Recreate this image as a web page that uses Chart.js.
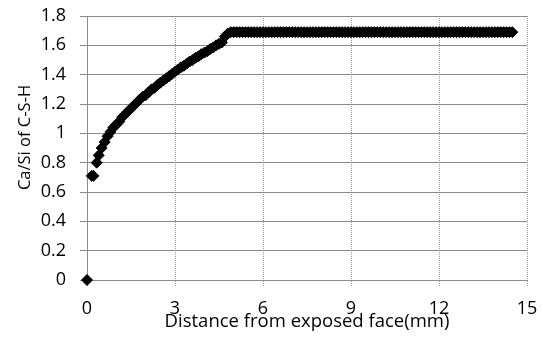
<!DOCTYPE html>
<html>
<head>
<meta charset="utf-8">
<script src="https://cdn.jsdelivr.net/npm/chart.js@4.4.1/dist/chart.umd.min.js"></script>
<style>
    html, body { margin: 0; padding: 0; background: #fff; }
    #wrap { width: 543px; height: 342px; position: relative; }
</style>
</head>
<body>
<div id="wrap"><canvas id="casi-chart"></canvas></div>
<script>
// start of the profile (mm, Ca/Si)
const startX = [0, 0.16, 0.22];
const startY = [0, 0.71, 0.71];

// rising part of the profile
const curveX = [0.33, 0.4, 0.5, 0.6, 0.7, 0.8, 0.9, 1.0, 1.1, 1.2,
    1.3, 1.4, 1.5, 1.6, 1.7, 1.8, 1.9, 2.0, 2.1, 2.2,
    2.3, 2.4, 2.5, 2.6, 2.7, 2.8, 2.9, 3.0, 3.1, 3.2,
    3.3, 3.4, 3.5, 3.6, 3.7, 3.8, 3.9, 4.0, 4.1, 4.2,
    4.3, 4.4, 4.5, 4.6, 4.7, 4.8, 4.9];
const curveY = [0.80, 0.85, 0.90, 0.94, 0.98, 1.01, 1.04, 1.06, 1.08, 1.11,
    1.13, 1.15, 1.17, 1.19, 1.21, 1.23, 1.25, 1.26, 1.28, 1.30,
    1.31, 1.33, 1.345, 1.36, 1.375, 1.39, 1.405, 1.42, 1.435, 1.45,
    1.46, 1.475, 1.49, 1.50, 1.515, 1.525, 1.54, 1.55, 1.56, 1.575,
    1.585, 1.60, 1.61, 1.62, 1.66, 1.68, 1.69];

// sound (unaffected) part
const plateauX = [5.0, 5.1, 5.2, 5.3, 5.4, 5.5, 5.6, 5.7, 5.8, 5.9,
    6.0, 6.1, 6.2, 6.3, 6.4, 6.5, 6.6, 6.7, 6.8, 6.9,
    7.0, 7.1, 7.2, 7.3, 7.4, 7.5, 7.6, 7.7, 7.8, 7.9,
    8.0, 8.1, 8.2, 8.3, 8.4, 8.5, 8.6, 8.7, 8.8, 8.9,
    9.0, 9.1, 9.2, 9.3, 9.4, 9.5, 9.6, 9.7, 9.8, 9.9,
    10.0, 10.1, 10.2, 10.3, 10.4, 10.5, 10.6, 10.7, 10.8, 10.9,
    11.0, 11.1, 11.2, 11.3, 11.4, 11.5, 11.6, 11.7, 11.8, 11.9,
    12.0, 12.1, 12.2, 12.3, 12.4, 12.5, 12.6, 12.7, 12.8, 12.9,
    13.0, 13.1, 13.2, 13.3, 13.4, 13.5, 13.6, 13.7, 13.8, 13.9,
    14.0, 14.1, 14.2, 14.3, 14.4, 14.5];
const plateauY = [1.69, 1.69, 1.69, 1.69, 1.69, 1.69, 1.69, 1.69, 1.69, 1.69,
    1.69, 1.69, 1.69, 1.69, 1.69, 1.69, 1.69, 1.69, 1.69, 1.69,
    1.69, 1.69, 1.69, 1.69, 1.69, 1.69, 1.69, 1.69, 1.69, 1.69,
    1.69, 1.69, 1.69, 1.69, 1.69, 1.69, 1.69, 1.69, 1.69, 1.69,
    1.69, 1.69, 1.69, 1.69, 1.69, 1.69, 1.69, 1.69, 1.69, 1.69,
    1.69, 1.69, 1.69, 1.69, 1.69, 1.69, 1.69, 1.69, 1.69, 1.69,
    1.69, 1.69, 1.69, 1.69, 1.69, 1.69, 1.69, 1.69, 1.69, 1.69,
    1.69, 1.69, 1.69, 1.69, 1.69, 1.69, 1.69, 1.69, 1.69, 1.69,
    1.69, 1.69, 1.69, 1.69, 1.69, 1.69, 1.69, 1.69, 1.69, 1.69,
    1.69, 1.69, 1.69, 1.69, 1.69, 1.69];

const yTickLabels = ["0", "0.2", "0.4", "0.6", "0.8", "1", "1.2", "1.4", "1.6", "1.8"];
const xTickLabels = ["0", "3", "6", "9", "12", "15"];
const yTitle = "Ca/Si of C-S-H";
const xTitle = "Distance from exposed face(mm)";

function toPoints(xs, ys) {
    return xs.map((x, i) => ({ x: x, y: ys[i] }));
}

const points = toPoints(startX, startY)
    .concat(toPoints(curveX, curveY))
    .concat(toPoints(plateauX, plateauY));

const fontFamily = "'Open Sans', 'Noto Sans', sans-serif";

// the y title sits a little above the middle of the axis, as in the original
const yTitlePlugin = {
    id: "yTitle",
    afterDraw(chart) {
        const c = chart.ctx;
        c.save();
        c.translate(25, 137.5);
        c.rotate(-Math.PI / 2);
        c.font = "16.5px " + fontFamily;
        c.fillStyle = "#000";
        c.textAlign = "center";
        c.textBaseline = "middle";
        c.fillText(yTitle, 0, 0);
        c.restore();
    },
};

function noScalePadding(scale) {
    scale.paddingTop = 0;
    scale.paddingBottom = 0;
    scale.paddingLeft = 0;
    scale.paddingRight = 0;
}

const ctx = document.getElementById("casi-chart");
new Chart(ctx, {
    type: "scatter",
    data: {
        datasets: [
            {
                label: "Ca/Si",
                data: points,
                pointStyle: "rectRot",
                pointRadius: 5.5,
                pointBorderWidth: 1,
                backgroundColor: "#000",
                borderColor: "#000",
                showLine: false,
                clip: false,
            },
        ],
    },
    options: {
        responsive: true,
        maintainAspectRatio: false,
        animation: false,
        layout: {
            padding: { top: 16, right: 16, left: 0, bottom: 0 },
        },
        plugins: {
            legend: { display: false },
            tooltip: { enabled: false },
        },
        scales: {
            x: {
                type: "linear",
                min: 0,
                max: 15,
                afterFit: (scale) => {
                    scale.height = 62;
                    noScalePadding(scale);
                },
                ticks: {
                    stepSize: 3,
                    padding: 12,
                    color: "#000",
                    font: { family: fontFamily, size: 18 },
                    callback: (v, i) => xTickLabels[i],
                },
                grid: {
                    color: "#9a9a9a",
                    tickLength: 6,
                    tickBorderDash: [1, 1],
                },
                border: {
                    color: "#8c8c8c",
                    dash: [1, 1],
                },
                title: {
                    display: true,
                    text: xTitle,
                    color: "#000",
                    font: { family: fontFamily, size: 18.5 },
                    padding: { top: 0, bottom: 9 },
                },
            },
            y: {
                type: "linear",
                min: 0,
                max: 1.8,
                afterFit: (scale) => {
                    scale.width = 87;
                    noScalePadding(scale);
                },
                ticks: {
                    stepSize: 0.2,
                    padding: 14,
                    color: "#000",
                    font: { family: fontFamily, size: 18 },
                    callback: (v, i) => yTickLabels[i],
                },
                grid: {
                    color: "#8c8c8c",
                    tickLength: 7,
                },
                border: {
                    color: "#8c8c8c",
                },
            },
        },
    },
    plugins: [yTitlePlugin],
});
</script>
</body>
</html>
